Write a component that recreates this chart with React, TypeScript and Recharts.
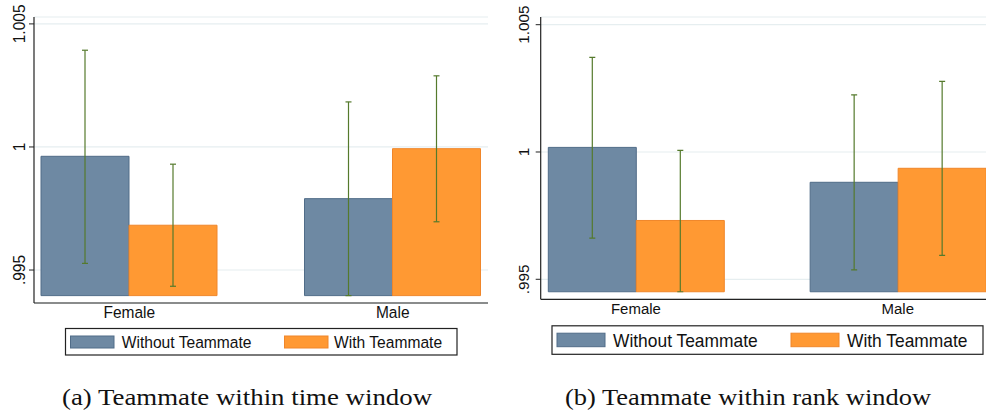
import React from "react";
import { BarChart, Bar, XAxis, YAxis, CartesianGrid } from "recharts";

// ---------- data ----------
const groups = ["Female", "Male"];
const seriesNames = ["Without Teammate", "With Teammate"];
const yTickValues = [0.995, 1, 1.005];
const yTickLabels = [".995", "1", "1.005"];

// (a) Teammate within time window
const timeWithout = [0.99962, 0.9979];
const timeWith = [0.99682, 0.99993];
const timeWithoutLo = [0.99527, 0.99396];
const timeWithoutHi = [1.00393, 1.00183];
const timeWithLo = [0.99434, 0.99696];
const timeWithHi = [0.9993, 1.00289];
const timeBase = 0.99396;
const timeDomain = [0.99366, 1.00528];

// (b) Teammate within rank window
const rankWithout = [1.00018, 0.99881];
const rankWith = [0.99731, 0.99936];
const rankWithoutLo = [0.99662, 0.99537];
const rankWithoutHi = [1.00372, 1.00224];
const rankWithLo = [0.99451, 0.99594];
const rankWithHi = [1.00006, 1.00277];
const rankBase = 0.99451;
const rankDomain = [0.994214, 1.005302];

const captions = ["(a) Teammate within time window", "(b) Teammate within rank window"];

// ---------- styles ----------
const BLUE = "#6e89a3";
const BLUE_EDGE = "#506c88";
const ORANGE = "#ff9933";
const ORANGE_EDGE = "#f0862a";
const ERR = "#557a2c";
const GRID = "#e6eef0";
const AXIS = "#222";
const TEXT = "#111";
const SANS = "'Liberation Sans', Arial, sans-serif";

function buildData(
  base: number,
  w: number[], wi: number[], wLo: number[], wHi: number[], wiLo: number[], wiHi: number[]
) {
  return groups.map((g, i) => ({
    group: g,
    without: [base, w[i]],
    with: [base, wi[i]],
    errWithout: [wLo[i], wHi[i]],
    errWith: [wiLo[i], wiHi[i]],
  }));
}

const dataTime = buildData(timeBase, timeWithout, timeWith, timeWithoutLo, timeWithoutHi, timeWithLo, timeWithHi);
const dataRank = buildData(rankBase, rankWithout, rankWith, rankWithoutLo, rankWithoutHi, rankWithLo, rankWithHi);

const fmtY = (v: number) => {
  const idx = yTickValues.findIndex((t) => Math.abs(t - v) < 1e-9);
  return idx >= 0 ? yTickLabels[idx] : String(v);
};

const makeYTick = (off: number, fs: number, sx: number) => (props: any) => {
  const { x, y, payload } = props;
  return (
    <text
      transform={`translate(${x - off},${y}) rotate(-90) scale(${sx},1)`}
      textAnchor="middle"
      fontSize={fs}
      fill={TEXT}
      fontFamily={SANS}
    >
      {fmtY(payload.value)}
    </text>
  );
};

const makeXTick = (fs: number, sx: number, baseOff: number) => (props: any) => {
  const { x, y, payload } = props;
  return (
    <text
      transform={`translate(${x},${y + baseOff}) scale(${sx},1)`}
      textAnchor="middle"
      fontSize={fs}
      fill={TEXT}
      fontFamily={SANS}
    >
      {payload.value}
    </text>
  );
};

const ErrShape = (props: any) => {
  const { x, y, width, height } = props;
  if (x == null || y == null) return null;
  const cx = x + width / 2;
  const top = Math.min(y, y + height);
  const bot = Math.max(y, y + height);
  return (
    <g stroke={ERR} strokeWidth={1.2} fill="none">
      <line x1={cx} x2={cx} y1={top} y2={bot} />
      <line x1={cx - 3} x2={cx + 3} y1={top} y2={top} />
      <line x1={cx - 3} x2={cx + 3} y1={bot} y2={bot} />
    </g>
  );
};

type PanelProps = {
  data: any[];
  width: number;
  height: number;
  top: number;
  yAxisWidth: number;
  xAxisHeight: number;
  pad: number;
  gap: number;
  domain: number[];
  yOff: number;
  yFont: number;
  ySx: number;
  xFont: number;
  xSx: number;
  xBase: number;
};

function Panel(p: PanelProps) {
  return (
    <BarChart
      width={p.width}
      height={p.height}
      data={p.data}
      margin={{ top: p.top, right: 0, bottom: 0, left: 0 }}
      barCategoryGap={p.gap}
      barGap={0}
    >
      <CartesianGrid horizontal vertical={false} stroke={GRID} strokeWidth={1.2} />
      <XAxis
        dataKey="group"
        height={p.xAxisHeight}
        padding={{ left: p.pad, right: p.pad }}
        tickLine={false}
        tickSize={0}
        tickMargin={4}
        axisLine={{ stroke: AXIS, strokeWidth: 1.2 }}
        tick={makeXTick(p.xFont, p.xSx, p.xBase)}
        interval={0}
      />
      <XAxis xAxisId="e" dataKey="group" hide padding={{ left: p.pad, right: p.pad }} />
      <YAxis
        width={p.yAxisWidth}
        type="number"
        domain={p.domain}
        allowDataOverflow
        ticks={yTickValues}
        tickSize={5}
        tickMargin={0}
        tickLine={{ stroke: AXIS }}
        axisLine={{ stroke: AXIS, strokeWidth: 1.2 }}
        tick={makeYTick(p.yOff, p.yFont, p.ySx)}
      />
      <Bar dataKey="without" name={seriesNames[0]} fill={BLUE} stroke={BLUE_EDGE} strokeWidth={1} isAnimationActive={false} />
      <Bar dataKey="with" name={seriesNames[1]} fill={ORANGE} stroke={ORANGE_EDGE} strokeWidth={1} isAnimationActive={false} />
      <Bar xAxisId="e" dataKey="errWithout" shape={ErrShape} isAnimationActive={false} />
      <Bar xAxisId="e" dataKey="errWith" shape={ErrShape} isAnimationActive={false} />
    </BarChart>
  );
}

function LegendBox(props: {
  x: number; y: number; w: number; h: number;
  sw: number[]; swY: number; swW: number; swH: number;
  tx: number[]; ty: number; fs: number; sx: number;
}) {
  const colors = [BLUE, ORANGE];
  const edges = [BLUE_EDGE, ORANGE_EDGE];
  return (
    <g>
      <rect x={props.x} y={props.y} width={props.w} height={props.h} fill="#fff" stroke={AXIS} strokeWidth={1.2} />
      {seriesNames.map((n, i) => (
        <g key={n}>
          <rect x={props.sw[i]} y={props.swY} width={props.swW} height={props.swH} fill={colors[i]} stroke={edges[i]} strokeWidth={1} />
          <text
            transform={`translate(${props.tx[i]},${props.ty}) scale(${props.sx},1)`}
            fontSize={props.fs}
            fill={TEXT}
            fontFamily={SANS}
          >
            {n}
          </text>
        </g>
      ))}
    </g>
  );
}

export default function App() {
  return (
    <div
      style={{
        position: "absolute",
        left: 0,
        top: 0,
        width: 986,
        height: 416,
        overflow: "hidden",
        background: "#fff",
        fontFamily: SANS,
      }}
    >
      <div style={{ position: "absolute", left: 0, top: 0 }}>
        <Panel
          data={dataTime}
          width={488}
          height={330}
          top={17}
          yAxisWidth={34}
          xAxisHeight={27}
          pad={-36.5}
          gap={43.5}
          domain={timeDomain}
          yOff={4.3}
          yFont={16.6}
          ySx={0.935}
          xFont={16.6}
          xSx={0.935}
          xBase={11.2}
        />
      </div>
      <div style={{ position: "absolute", left: 500, top: 0 }}>
        <Panel
          data={dataRank}
          width={493}
          height={330}
          top={17}
          yAxisWidth={40.7}
          xAxisHeight={30.7}
          pad={-35.7}
          gap={43.3}
          domain={rankDomain}
          yOff={6.5}
          yFont={15.3}
          ySx={1}
          xFont={15.2}
          xSx={0.985}
          xBase={10.8}
        />
      </div>
      <svg
        width={986}
        height={416}
        style={{ position: "absolute", left: 0, top: 0, pointerEvents: "none" }}
      >
        <LegendBox
          x={65.5} y={328.5} w={391.5} h={26.5}
          sw={[70.5, 284.5]} swY={336} swW={43.5} swH={12}
          tx={[121.7, 334]} ty={348.2} fs={16.7} sx={0.935}
        />
        <LegendBox
          x={552} y={325.8} w={431} h={28.5}
          sw={[557, 791]} swY={333.2} swW={48} swH={13.5}
          tx={[613, 847]} ty={346.8} fs={18.2} sx={0.956}
        />
        <text
          x={62}
          y={405}
          fontSize={24}
          fontFamily="'Liberation Serif', 'Times New Roman', serif"
          fill={TEXT}
          textLength={370}
          lengthAdjust="spacingAndGlyphs"
        >
          {captions[0]}
        </text>
        <text
          x={565}
          y={405}
          fontSize={24}
          fontFamily="'Liberation Serif', 'Times New Roman', serif"
          fill={TEXT}
          textLength={366}
          lengthAdjust="spacingAndGlyphs"
        >
          {captions[1]}
        </text>
      </svg>
    </div>
  );
}
